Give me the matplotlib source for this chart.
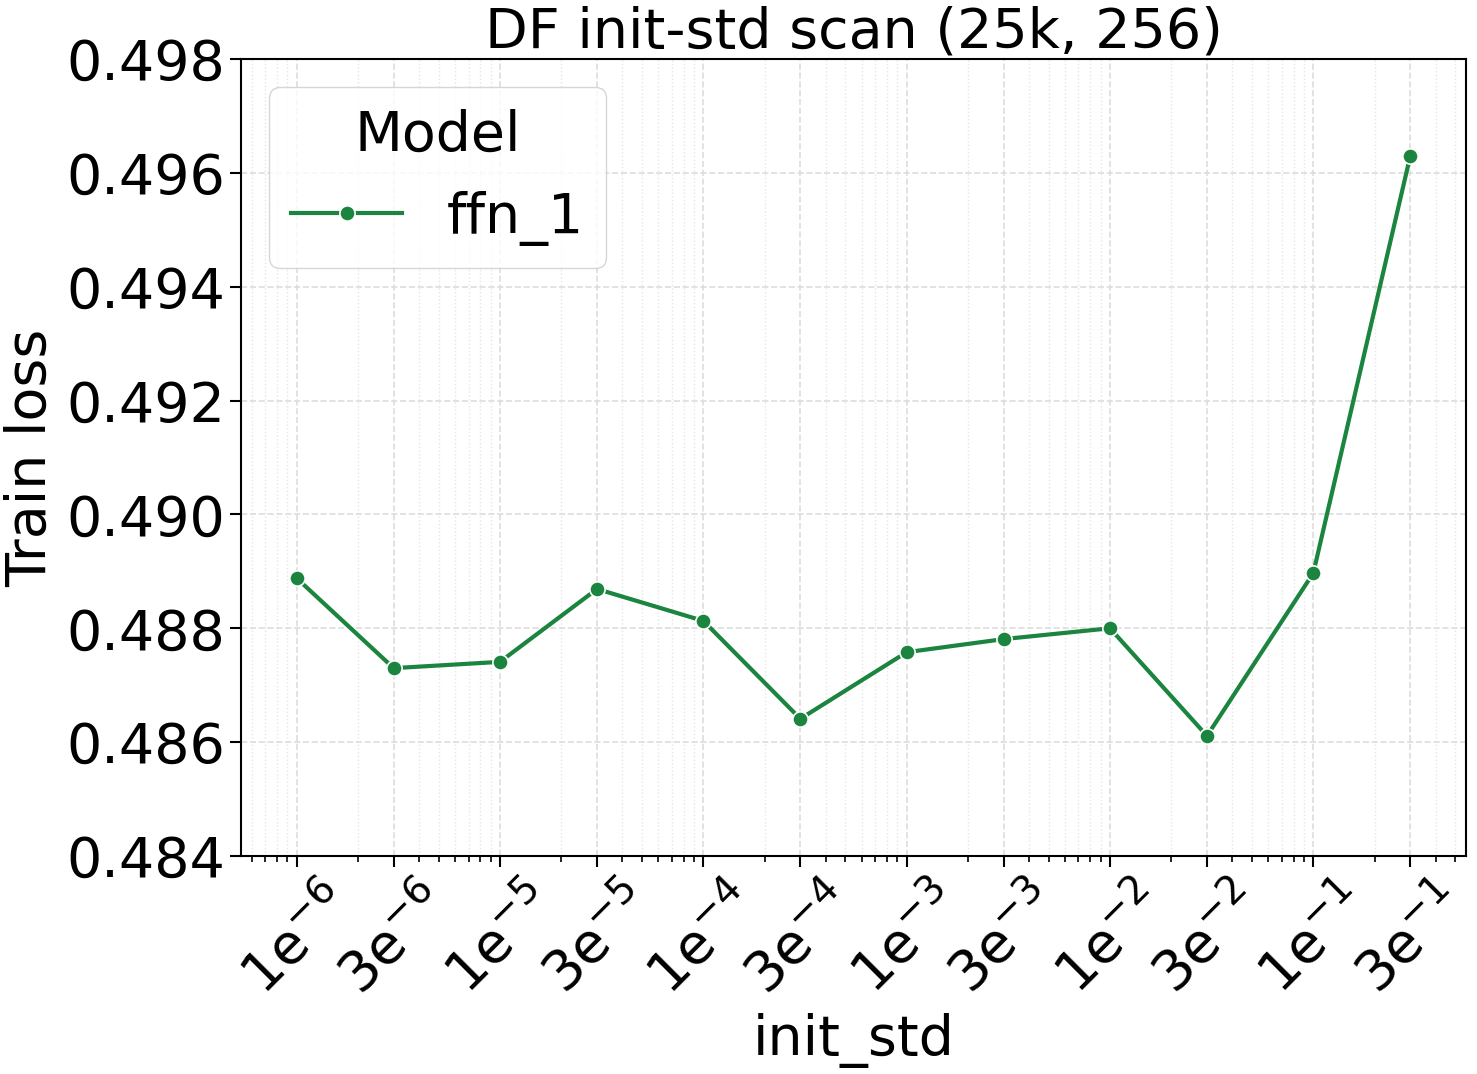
import matplotlib
matplotlib.use("Agg")
import matplotlib.pyplot as plt
from matplotlib.ticker import LogLocator, NullFormatter

init_std = [1e-6, 3e-6, 1e-5, 3e-5, 1e-4, 3e-4, 1e-3, 3e-3, 1e-2, 3e-2, 1e-1, 3e-1]
train_loss = [0.48888, 0.48730, 0.48741, 0.48869, 0.48813, 0.48641,
              0.48758, 0.48781, 0.48800, 0.48611, 0.48897, 0.49630]
tick_labels = [r'1e$^{-6}$', r'3e$^{-6}$', r'1e$^{-5}$', r'3e$^{-5}$', r'1e$^{-4}$', r'3e$^{-4}$',
               r'1e$^{-3}$', r'3e$^{-3}$', r'1e$^{-2}$', r'3e$^{-2}$', r'1e$^{-1}$', r'3e$^{-1}$']
yticks = [0.484, 0.486, 0.488, 0.490, 0.492, 0.494, 0.496, 0.498]
series_name = "ffn_1"
color = "#1b843f"
FS = 40

fig = plt.figure(figsize=(14.77, 10.74), dpi=100)
ax = fig.add_axes([241/1477, 1 - 856/1074, (1466-241)/1477, (856-59)/1074])

ax.plot(init_std, train_loss, color=color, lw=3, marker='o', ms=11,
        mec='white', mew=1.2, label=series_name, zorder=3)
ax.set_xscale('log')
ax.set_xticks(init_std)
ax.set_xticklabels(tick_labels, rotation=45, ha='center', fontsize=FS)
ax.xaxis.set_minor_locator(LogLocator(base=10, subs=range(2, 10), numticks=50))
ax.xaxis.set_minor_formatter(NullFormatter())
ax.set_ylim(0.484, 0.498)
ax.set_yticks(yticks)
ax.set_yticklabels([f"{v:.3f}" for v in yticks], fontsize=FS)
ax.tick_params(axis='both', which='major', length=8, width=1.5)
ax.tick_params(axis='x', which='minor', length=4, width=1.2)
ax.tick_params(axis='x', which='major', pad=6)

ax.grid(True, which='major', ls='--', color='#dddddd', lw=1.2)
ax.grid(True, which='minor', axis='x', ls=':', color='#e6e6e6', lw=1.0)
ax.set_axisbelow(True)
for s in ax.spines.values():
    s.set_linewidth(1.5)

ax.set_xlabel("init_std", fontsize=FS, labelpad=6)
ax.set_ylabel("Train loss", fontsize=FS, labelpad=6)
ax.set_title("DF init-std scan (25k, 256)", fontsize=FS, pad=8)

leg = ax.legend(title="Model", fontsize=FS, title_fontsize=FS, loc='upper left',
                frameon=True, fancybox=True, handlelength=2.0)
leg.get_frame().set_edgecolor('#cccccc')

fig.savefig("out.png", dpi=100)
